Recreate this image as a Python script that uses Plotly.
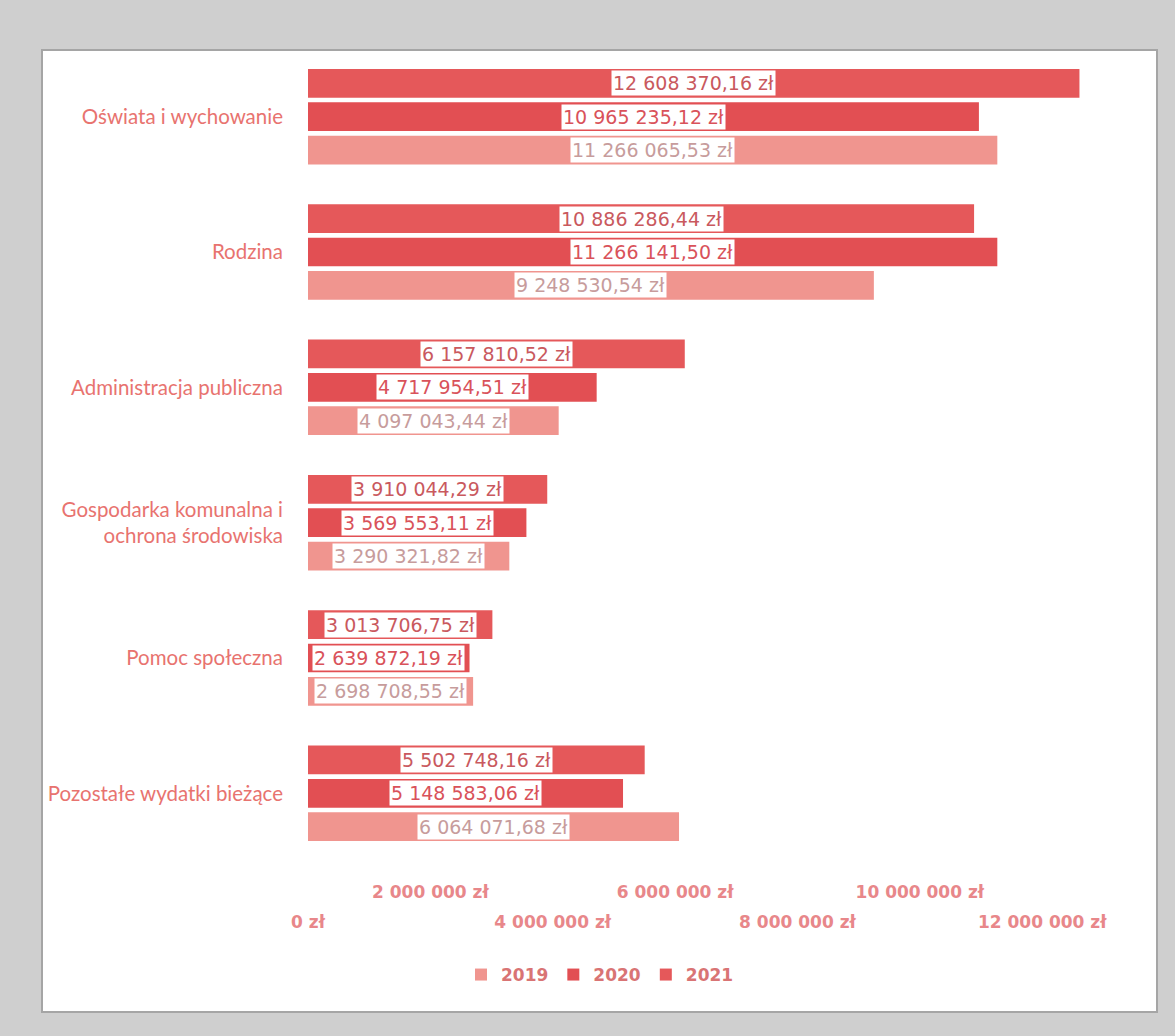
import plotly.graph_objects as go

categories = [
    "Oświata i wychowanie",
    "Rodzina",
    "Administracja publiczna",
    "Gospodarka komunalna i<br>ochrona środowiska",
    "Pomoc społeczna",
    "Pozostałe wydatki bieżące",
]
years = ["2019", "2020", "2021"]
values_2019 = [11266065.53, 9248530.54, 4097043.44, 3290321.82, 2698708.55, 6064071.68]
values_2020 = [10965235.12, 11266141.50, 4717954.51, 3569553.11, 2639872.19, 5148583.06]
values_2021 = [12608370.16, 10886286.44, 6157810.52, 3910044.29, 3013706.75, 5502748.16]
ticks_lower = [0, 4000000, 8000000, 12000000]
ticks_upper = [2000000, 6000000, 10000000]

series = {"2019": values_2019, "2020": values_2020, "2021": values_2021}
bar_colors = {"2019": "#F0958F", "2020": "#E24F53", "2021": "#E5585A"}
label_colors = {"2019": "#C79C9C", "2020": "#D9525A", "2021": "#C9595E"}


def fmt(v, dec=2):
    s = f"{v:,.{dec}f}".replace(",", " ").replace(".", ",")
    return s + " zł"


W, H = 1175, 1036
ML, MR, MT, MB = 308, 41, 49, 175
BARGAP, GROUPGAP = 0.26, 0.14

fig = go.Figure()
for y in years:
    fig.add_trace(go.Bar(
        name=y, y=categories, x=series[y], orientation="h",
        marker=dict(color=bar_colors[y], line=dict(width=0)),
        hoverinfo="skip",
    ))

# invisible carrier for the upper tick row axis
fig.add_trace(go.Scatter(x=[0], y=[categories[0]], xaxis="x2", mode="markers",
                         marker=dict(opacity=0), showlegend=False, hoverinfo="skip"))

plot_h = H - MT - MB
slot = plot_h / len(categories) * (1 - BARGAP) / 3
shifts = {"2019": -slot, "2020": 0, "2021": slot}

annotations = []
for y in years:
    for c, v in zip(categories, series[y]):
        annotations.append(dict(
            x=v / 2, y=c, xref="x", yref="y", yshift=shifts[y],
            text=fmt(v), showarrow=False, bgcolor="white", borderpad=1,
            font=dict(family="DejaVu Sans", size=19, color=label_colors[y]),
        ))

px_per = (W - ML - MR)
x0p = lambda px: (px - ML) / px_per
y0p = lambda py: (H - MB - py) / plot_h

fig.update_layout(
    width=W, height=H, autosize=False,
    margin=dict(l=ML, r=MR, t=MT, b=MB),
    paper_bgcolor="#CFCFCF", plot_bgcolor="white",
    barmode="group", bargap=BARGAP, bargroupgap=GROUPGAP,
    showlegend=True,
    legend=dict(orientation="h", xref="container", x=600 / W, xanchor="center",
                yref="container", y=61 / H, yanchor="middle",
                font=dict(family="DejaVu Sans", size=17, color="#D97474", weight="bold"),
                traceorder="normal", bgcolor="rgba(0,0,0,0)"),
    yaxis=dict(type="category", categoryorder="array", categoryarray=categories[::-1],
               showgrid=False, zeroline=False, showline=False, ticks="",
               ticklabelstandoff=24,
               tickfont=dict(family="Lato", size=20.5, color="#E8736F")),
    xaxis=dict(range=[0, 13.5e6], showgrid=False, zeroline=False, showline=False, ticks="",
               tickvals=ticks_lower, ticktext=[fmt(t, 0) for t in ticks_lower],
               ticklabelstandoff=49,
               tickfont=dict(family="DejaVu Sans", size=17, color="#E8878A", weight="bold")),
    xaxis2=dict(overlaying="x", anchor="y", side="bottom", range=[0, 13.5e6],
                showgrid=False, zeroline=False, showline=False, ticks="",
                tickvals=ticks_upper, ticktext=[fmt(t, 0) for t in ticks_upper],
                ticklabelstandoff=19,
                tickfont=dict(family="DejaVu Sans", size=17, color="#E8878A", weight="bold")),
    annotations=annotations,
    shapes=[dict(type="rect", xref="paper", yref="paper", layer="below",
                 x0=x0p(42), x1=x0p(1157), y0=y0p(1012), y1=y0p(50),
                 fillcolor="white", line=dict(color="#A5A5A5", width=2))],
)

fig.write_html("out.html")
